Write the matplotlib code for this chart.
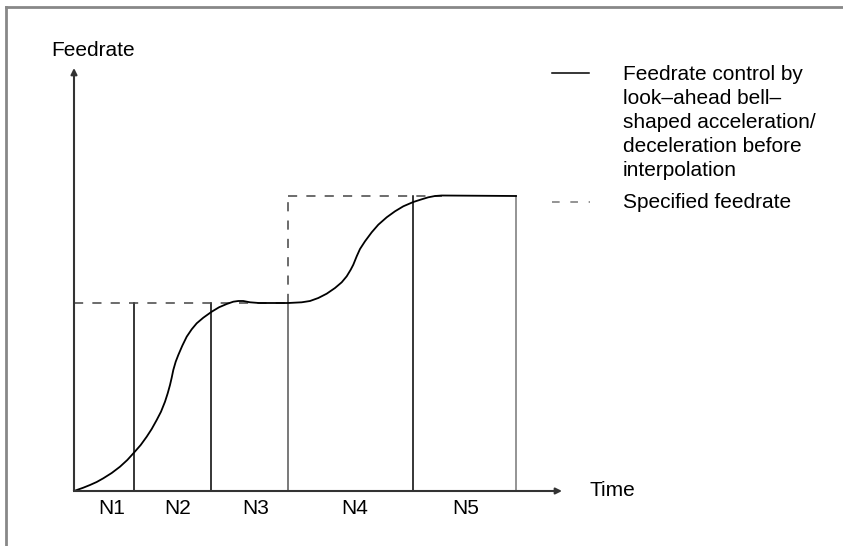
import matplotlib
matplotlib.use("Agg")
from matplotlib import pyplot as plt
from matplotlib.lines import Line2D

plt.rcParams['font.family'] = ['Liberation Sans', 'DejaVu Sans']

# block boundaries (time) and block names
block_ends = [6.0, 13.7, 21.4, 33.9, 44.2]
block_labels = ['N1', 'N2', 'N3', 'N4', 'N5']

# specified feedrate of each block
specified_feed = [18.8, 18.8, 18.8, 29.5, 29.5]

curve_t = [0.0, 0.93, 1.6, 2.27, 2.93, 3.77, 4.6, 5.33, 6.03, 6.67, 7.27,
           7.77, 8.27, 8.7, 9.1, 9.37, 9.6, 9.77, 9.93, 10.17, 10.43, 10.83,
           11.27, 11.77, 12.27, 12.93, 13.77, 14.5, 15.27, 15.93, 16.43,
           16.93, 17.6, 18.5, 21.43, 22.77, 23.6, 24.43, 25.27, 26.1, 26.77,
           27.27, 27.67, 27.93, 28.27, 28.6, 29.1, 29.77, 30.43, 31.27, 32.1,
           32.93, 33.93, 34.77, 35.43, 36.1, 36.77, 44.2]
curve_f = [0.0, 0.33, 0.6, 0.9, 1.27, 1.8, 2.43, 3.1, 3.87, 4.6, 5.43,
           6.2, 7.1, 7.93, 8.93, 9.77, 10.6, 11.33, 12.1, 12.93, 13.6, 14.53,
           15.43, 16.17, 16.77, 17.33, 17.93, 18.37, 18.7, 18.93, 19.0,
           19.0, 18.87, 18.8, 18.8, 18.87, 19.0, 19.3, 19.73, 20.3, 20.87,
           21.47, 22.13, 22.63, 23.47, 24.2, 24.97, 25.87, 26.63, 27.37, 27.97,
           28.47, 28.9, 29.17, 29.37, 29.5, 29.55, 29.5]

legend_lines = ['Feedrate control by', 'look–ahead bell–', 'shaped acceleration/',
                'deceleration before', 'interpolation']

fig = plt.figure(figsize=(8.43, 5.46), dpi=100)
ax = fig.add_axes([0, 0, 1, 1])
ax.set_xlim(-7.4, 76.9)
ax.set_ylim(-5.5, 49.1)
ax.axis('off')

# page frame
fig.add_artist(Line2D([0.007, 1.0], [0.987, 0.987], color='#888888', lw=2,
                      transform=fig.transFigure))
fig.add_artist(Line2D([0.007, 0.007], [0.0, 0.987], color='#888888', lw=2,
                      transform=fig.transFigure))

# axes with arrows
ax.annotate('', xy=(0, 42.3), xytext=(0, 0),
            arrowprops=dict(arrowstyle='-|>', color='#333333', lw=1.5,
                            mutation_scale=9, shrinkA=0, shrinkB=0))
ax.annotate('', xy=(48.8, 0), xytext=(0, 0),
            arrowprops=dict(arrowstyle='-|>', color='#333333', lw=1.5,
                            mutation_scale=9, shrinkA=0, shrinkB=0))
ax.text(1.9, 44.0, 'Feedrate', fontsize=15, ha='center', va='center')
ax.text(51.6, 0.1, 'Time', fontsize=15, ha='left', va='center')

# block boundary lines
line_cols = ['black', 'black', '#555555', 'black', '#777777']
for i, t in enumerate(block_ends):
    ax.plot([t, t], [0, specified_feed[i]], color=line_cols[i], lw=1.1)

# specified feedrate (dashed)
dash = dict(color='#444444', lw=1.1, dashes=(6, 6))
ax.plot([0, block_ends[2]], [specified_feed[0], specified_feed[2]], **dash)
ax.plot([block_ends[2], block_ends[2]], [specified_feed[2], specified_feed[3]], **dash)
ax.plot([block_ends[2], 36.8], [specified_feed[3], specified_feed[3]], **dash)

# actual feedrate
ax.plot(curve_t, curve_f, color='black', lw=1.3, solid_joinstyle='round')

# block names
label_t = [3.8, 10.4, 18.2, 28.1, 39.2]
for t, lab in zip(label_t, block_labels):
    ax.text(t, -1.7, lab, fontsize=15, ha='center', va='center')

# legend
ax.plot([47.8, 51.5], [41.8, 41.8], color='black', lw=1.1)
for k, line in enumerate(legend_lines):
    ax.text(54.9, 41.6 - 2.38 * k, line, fontsize=15, ha='left', va='center')
ax.plot([47.8, 51.6], [28.9, 28.9], color='#777777', lw=1.1, dashes=(5, 7))
ax.text(54.9, 28.9, 'Specified feedrate', fontsize=15, ha='left', va='center')

fig.savefig('out.png', dpi=100)
